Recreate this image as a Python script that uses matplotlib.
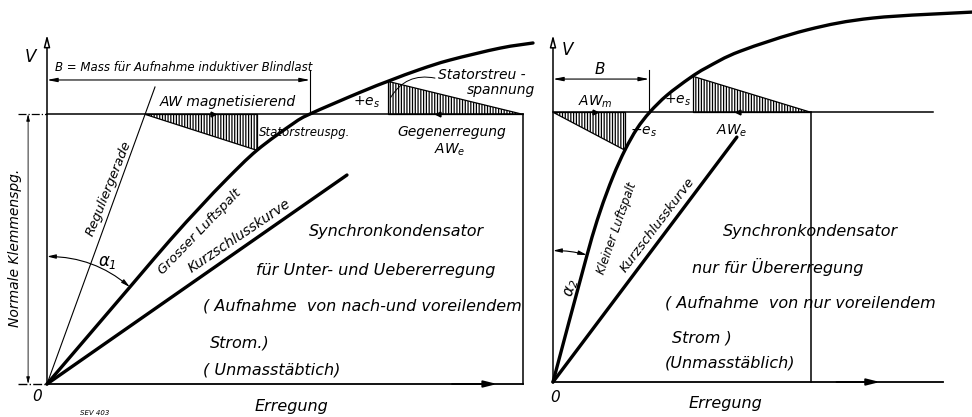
import matplotlib
matplotlib.use('Agg')
import matplotlib.pyplot as plt
from matplotlib.path import Path
from matplotlib.patches import PathPatch

plt.rcParams['font.family'] = ['DejaVu Sans']
plt.rcParams['font.style'] = 'italic'
plt.rcParams['mathtext.fontset'] = 'dejavusans'
plt.rcParams['hatch.linewidth'] = 0.9

# Werte: Erregung (x) und Spannung in % der normalen Klemmenspannung (y)
# linkes Bild - grosser Luftspalt
gross_x = [0, 30.7, 45.6, 56.7, 66.7, 77.8, 91.1, 97.4, 115.9, 127.0, 138.1, 149.3, 167.8, 180.0]
gross_y = [0, 35.9, 53.3, 65.5, 76.0, 86.6, 96.4, 100, 108.0, 112.4, 116.5, 120.0, 124.4, 126.3]
kurz1_x = [0, 111.1]
kurz1_y = [0, 77.4]
regul_x = [0, 40.0]
regul_y = [0, 110.0]
awmag1_x = [36.4, 77.8, 77.8]
awmag1_y = [100, 100, 86.6]
gegen1_x = [126.3, 126.3, 176.3]
gegen1_y = [112.2, 100, 100]
b1 = 97.4
end1 = 176.3

# rechtes Bild - kleiner Luftspalt
klein_x = [0, 12.6, 17.4, 22.2, 26.7, 31.1, 35.9, 42.2, 50.7, 57.0, 69.3, 94.1, 118.5, 155.2]
klein_y = [0, 47.0, 63.0, 76.0, 86.0, 93.8, 100, 106.2, 112.6, 116.5, 122.5, 130.4, 134.8, 137.0]
kurz2_x = [0, 68.1]
kurz2_y = [0, 90.7]
awm2_x = [0, 26.7, 26.7]
awm2_y = [100, 100, 86.0]
awe2_x = [51.9, 51.9, 95.4]
awe2_y = [113.2, 100, 100]
b2 = 35.6
end2 = 95.4

W, H = 972, 417
S = 2.7  # px pro Einheit
fig = plt.figure(figsize=(W / 100, H / 100), dpi=100)


def make_axes(x0, x1, ox, oy):
    ax = fig.add_axes([x0 / W, 0, (x1 - x0) / W, 1])
    ax.set_xlim((x0 - ox) / S, (x1 - ox) / S)
    ax.set_ylim((oy - H) / S, oy / S)
    ax.axis('off')
    return ax


def arrow(ax, p, q, style='-|>', lw=1.0, fc='k', **kw):
    ax.annotate('', xy=q, xytext=p,
                arrowprops=dict(arrowstyle=style, lw=lw, color='k', fc=fc,
                                shrinkA=0, shrinkB=0, **kw))


def txt(ax, x, y, s, fs=11.5, **kw):
    kw.setdefault('ha', 'center')
    kw.setdefault('va', 'center')
    ax.text(x, y, s, fontsize=fs, color='k', **kw)


def smooth_curve(ax, xs, ys, lw=2.4):
    pts = list(zip(xs, ys))
    verts = [pts[0]]
    codes = [Path.MOVETO]
    n = len(pts)
    for i in range(n - 1):
        p0 = pts[i - 1] if i > 0 else pts[i]
        p1, p2 = pts[i], pts[i + 1]
        p3 = pts[i + 2] if i + 2 < n else pts[i + 1]
        c1 = (p1[0] + (p2[0] - p0[0]) / 6, p1[1] + (p2[1] - p0[1]) / 6)
        c2 = (p2[0] - (p3[0] - p1[0]) / 6, p2[1] - (p3[1] - p1[1]) / 6)
        verts += [c1, c2, p2]
        codes += [Path.CURVE4] * 3
    ax.add_patch(PathPatch(Path(verts, codes), fill=False, lw=lw, ec='k', capstyle='round'))


axL = make_axes(0, 540, 47, 384)
axR = make_axes(540, 972, 553, 382)
hatch = '||||||'

# ---- linkes Bild ----
ax = axL
arrow(ax, (0, 0), (0, 129.3), style='-|>,head_length=0.7,head_width=0.18', lw=1.1, fc='white')
ax.plot([-10.7, 0], [0, 0], 'k-.', lw=1.0)
ax.plot([0, end1], [0, 0], 'k-', lw=1.3)
arrow(ax, (150, 0), (166.7, 0), style='-|>,head_length=0.8,head_width=0.2', lw=1.3)
ax.plot([-10.7, 0], [100, 100], 'k-.', lw=0.9)
ax.plot([0, end1], [100, 100], 'k-', lw=1.1)
ax.plot([end1, end1], [0, 100], 'k-', lw=1.1)
ax.plot(regul_x, regul_y, 'k-', lw=0.8)
smooth_curve(ax, gross_x, gross_y)
ax.plot(kurz1_x, kurz1_y, 'k-', lw=2.4, solid_capstyle='round')
ax.fill(awmag1_x, awmag1_y, facecolor='none', edgecolor='k', hatch=hatch, lw=0.9)
ax.fill(gegen1_x, gegen1_y, facecolor='none', edgecolor='k', hatch=hatch, lw=0.9)
arrow(ax, (0, 112.6), (b1, 112.6), style='<|-|>,head_length=0.6,head_width=0.12', lw=0.8)
ax.plot([b1, b1], [100, 116.3], 'k-', lw=0.8)
arrow(ax, (-7, 0), (-7, 100), style='<|-|>,head_length=0.4,head_width=0.1', lw=0.6)
ax.plot([61.5], [100], marker='>', ms=3.5, color='k')
ax.plot([144.8], [100], marker='<', ms=3.5, color='k')
arrow(ax, (143.7, 113.3), (127.2, 106.0), style='-', lw=0.7, connectionstyle='arc3,rad=0.35')
r1 = (gross_x[1] ** 2 + gross_y[1] ** 2) ** 0.5
arrow(ax, (0, r1), (gross_x[1], gross_y[1]), style='<|-|>,head_length=0.5,head_width=0.12',
      lw=0.8, connectionstyle='arc3,rad=-0.18')

txt(ax, -6.3, 121.1, 'V', 12)
txt(ax, 3.0, 117.4, 'B = Mass für Aufnahme induktiver Blindlast', 8.5, ha='left')
txt(ax, 67.0, 104.4, 'AW magnetisierend', 10)
txt(ax, 78.6, 93.3, 'Statorstreuspg.', 8.5, ha='left')
txt(ax, 118.5, 104.4, r'$+e_s$', 10)
txt(ax, 144.8, 114.4, 'Statorstreu -', 10, ha='left')
txt(ax, 155.6, 108.9, 'spannung', 10, ha='left')
txt(ax, 129.6, 93.3, 'Gegenerregung', 10, ha='left')
txt(ax, 149.3, 86.7, r'$AW_e$', 10)
txt(ax, 23.0, 72.6, 'Reguliergerade', 9.5, rotation=68, rotation_mode='anchor')
txt(ax, 56.7, 56.3, 'Grosser Luftspalt', 9.5, rotation=46, rotation_mode='anchor')
txt(ax, 71.1, 54.8, 'Kurzschlusskurve', 10, rotation=34, rotation_mode='anchor')
txt(ax, 22.2, 45.2, r'$\alpha_1$', 12)
txt(ax, -11.9, 50.4, 'Normale Klemmenspg.', 10, rotation=90)
txt(ax, 129.3, 56.3, 'Synchronkondensator')
txt(ax, 121.9, 42.2, 'für Unter- und Uebererregung')
txt(ax, 57.8, 28.9, '( Aufnahme  von nach-und voreilendem', ha='left')
txt(ax, 60.4, 15.2, 'Strom.)', ha='left')
txt(ax, 57.8, 5.2, '( Unmasstäbtich)', ha='left')
txt(ax, 90.4, -8.5, 'Erregung')
txt(ax, -3.7, -4.8, '0', 11)
txt(ax, 17.8, -10.7, 'SEV 403', 5)

# ---- rechtes Bild ----
ax = axR
arrow(ax, (0, 0), (0, 128.5), style='-|>,head_length=0.7,head_width=0.18', lw=1.1, fc='white')
ax.plot([0, 144.4], [0, 0], 'k-', lw=1.3)
arrow(ax, (105, 0), (121.1, 0), style='-|>,head_length=0.8,head_width=0.2', lw=1.3)
ax.plot([0, 140.7], [100, 100], 'k-', lw=1.1)
ax.plot([end2, end2], [0, 100], 'k-', lw=1.1)
smooth_curve(ax, klein_x, klein_y)
ax.plot(kurz2_x, kurz2_y, 'k-', lw=2.4, solid_capstyle='round')
ax.fill(awm2_x, awm2_y, facecolor='none', edgecolor='k', hatch=hatch, lw=0.9)
ax.fill(awe2_x, awe2_y, facecolor='none', edgecolor='k', hatch=hatch, lw=0.9)
arrow(ax, (0, 112.2), (b2, 112.2), style='<|-|>,head_length=0.6,head_width=0.12', lw=0.8)
ax.plot([b2, b2], [100, 115.6], 'k-', lw=0.8)
ax.plot([15.6], [100], marker='>', ms=3.5, color='k')
ax.plot([68.5], [100], marker='<', ms=3.5, color='k')
r2 = (klein_x[1] ** 2 + klein_y[1] ** 2) ** 0.5
arrow(ax, (0, r2), (klein_x[1], klein_y[1]), style='<|-|>,head_length=0.5,head_width=0.12',
      lw=0.8, connectionstyle='arc3,rad=-0.07')

txt(ax, 5.2, 123.0, 'V', 12)
txt(ax, 17.4, 115.6, 'B', 11)
txt(ax, 15.6, 103.7, r'$AW_m$', 10)
txt(ax, 33.6, 92.6, r'$-e_s$', 10)
txt(ax, 46.3, 104.4, r'$+e_s$', 10)
txt(ax, 66.3, 93.0, r'$AW_e$', 10)
txt(ax, 23.7, 57.0, 'Kleiner Luftspalt', 8.5, rotation=70.6, rotation_mode='anchor')
txt(ax, 38.5, 58.1, 'Kurzschlusskurve', 9.5, rotation=53, rotation_mode='anchor')
txt(ax, 7.0, 34.8, r'$\alpha_2$', 11, rotation=75)
txt(ax, 95.2, 55.6, 'Synchronkondensator')
txt(ax, 83.3, 42.6, 'nur für Übererregung')
txt(ax, 41.5, 29.3, '( Aufnahme  von nur voreilendem', ha='left')
txt(ax, 44.1, 16.3, 'Strom )', ha='left')
txt(ax, 41.5, 7.0, '(Unmasstäblich)', ha='left')
txt(ax, 63.7, -7.8, 'Erregung')
txt(ax, 0.7, -5.6, '0', 11)

fig.savefig('out.png', dpi=100, facecolor='white')
